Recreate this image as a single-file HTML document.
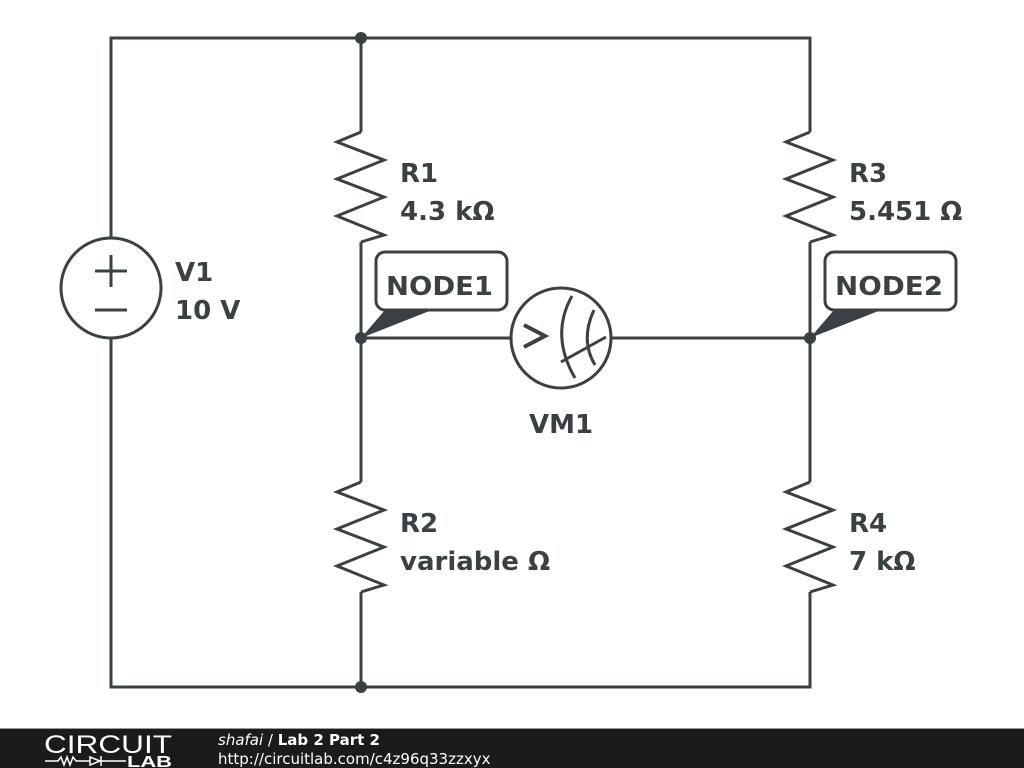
<!DOCTYPE html>
<html><head><meta charset="utf-8"><style>
html,body{margin:0;padding:0;background:#fff;width:1024px;height:768px;overflow:hidden}
svg{display:block}
text{font-family:"DejaVu Sans",sans-serif;font-weight:bold;fill:#3a4144}
</style></head><body>
<svg width="1024" height="768" viewBox="0 0 1024 768">
<g stroke="#3a4144" stroke-width="3" fill="none" stroke-linejoin="miter">
<path d="M111 238 V38 H810 V132"/>
<path d="M111 338 V687 H810 V592"/>
<path d="M361 38 V132"/>
<path d="M361 242 V482"/>
<path d="M361 592 V687"/>
<path d="M810 242 V482"/>
<path d="M361 132 L337 142 L384 160 L337 179 L384 197 L337 216 L384 235 L361 242"/>
<path d="M361 482 L337 492 L384 510 L337 529 L384 547 L337 566 L384 585 L361 592"/>
<path d="M810 132 L786 142 L833 160 L786 179 L833 197 L786 216 L833 235 L810 242"/>
<path d="M810 482 L786 492 L833 510 L786 529 L833 547 L786 566 L833 585 L810 592"/>
<circle cx="111" cy="288" r="50"/>
<path d="M95 271 H127 M111 255 V287 M95 310 H127"/>
<path d="M361 338 H511 M611 338 H810"/>
<circle cx="561" cy="338" r="50"/>
<path d="M524 325 L545 336 L524 347" stroke-width="4"/>
<path d="M572 296 Q550 335 575 378"/>
<path d="M594 310 Q580 340 595 365"/>
<path d="M561 362 L606 337"/>
<rect x="376" y="252" width="131" height="58" rx="9" fill="#fff"/>
<rect x="825" y="252" width="131" height="58" rx="9" fill="#fff"/>
</g>
<g fill="#3a4144">
<circle cx="361" cy="38" r="6"/>
<circle cx="361" cy="687" r="6"/>
<circle cx="361" cy="338" r="6"/>
<circle cx="810" cy="338" r="6"/>
<polygon points="361,338 385,310 432,310"/>
<polygon points="810,338 834,310 881,310"/>
</g>
<g font-size="26">
<text x="386" y="295" textLength="107" lengthAdjust="spacingAndGlyphs">NODE1</text>
<text x="835" y="295" textLength="108" lengthAdjust="spacingAndGlyphs">NODE2</text>
<text x="400" y="182">R1</text>
<text x="400" y="220">4.3 kΩ</text>
<text x="849" y="182">R3</text>
<text x="849" y="220">5.451 Ω</text>
<text x="175" y="281">V1</text>
<text x="175" y="319">10 V</text>
<text x="529" y="433">VM1</text>
<text x="400" y="532">R2</text>
<text x="400" y="570">variable Ω</text>
<text x="849" y="532">R4</text>
<text x="849" y="570">7 kΩ</text>
</g>
<rect x="0" y="729" width="1024" height="39" fill="#1b1b1b"/>
<rect x="0" y="728" width="1024" height="1" fill="#999"/>
<text x="44" y="753" font-size="25" textLength="128" lengthAdjust="spacingAndGlyphs" style="font-weight:normal;fill:#fff;font-family:'Liberation Sans',sans-serif">CIRCUIT</text>
<path d="M45 761 H58 l3 -4 3 8 3 -8 3 8 3 -8 3 4 H90 M90 757 l10 4 -10 4 z M101 756 V766 M101 761 H126" stroke="#fff" stroke-width="1.5" fill="none"/>
<text x="127" y="767" font-size="16" textLength="45" lengthAdjust="spacingAndGlyphs" style="fill:#fff;font-family:'Liberation Sans',sans-serif">LAB</text>
<text x="218" y="745" font-size="15" style="fill:#fff"><tspan style="font-style:italic;font-weight:normal">shafai</tspan><tspan style="font-weight:normal"> / </tspan>Lab 2 Part 2</text>
<text x="218" y="764" font-size="15" style="fill:#fff;font-weight:normal">http://circuitlab.com/c4z96q33zzxyx</text>
</svg>
</body></html>
